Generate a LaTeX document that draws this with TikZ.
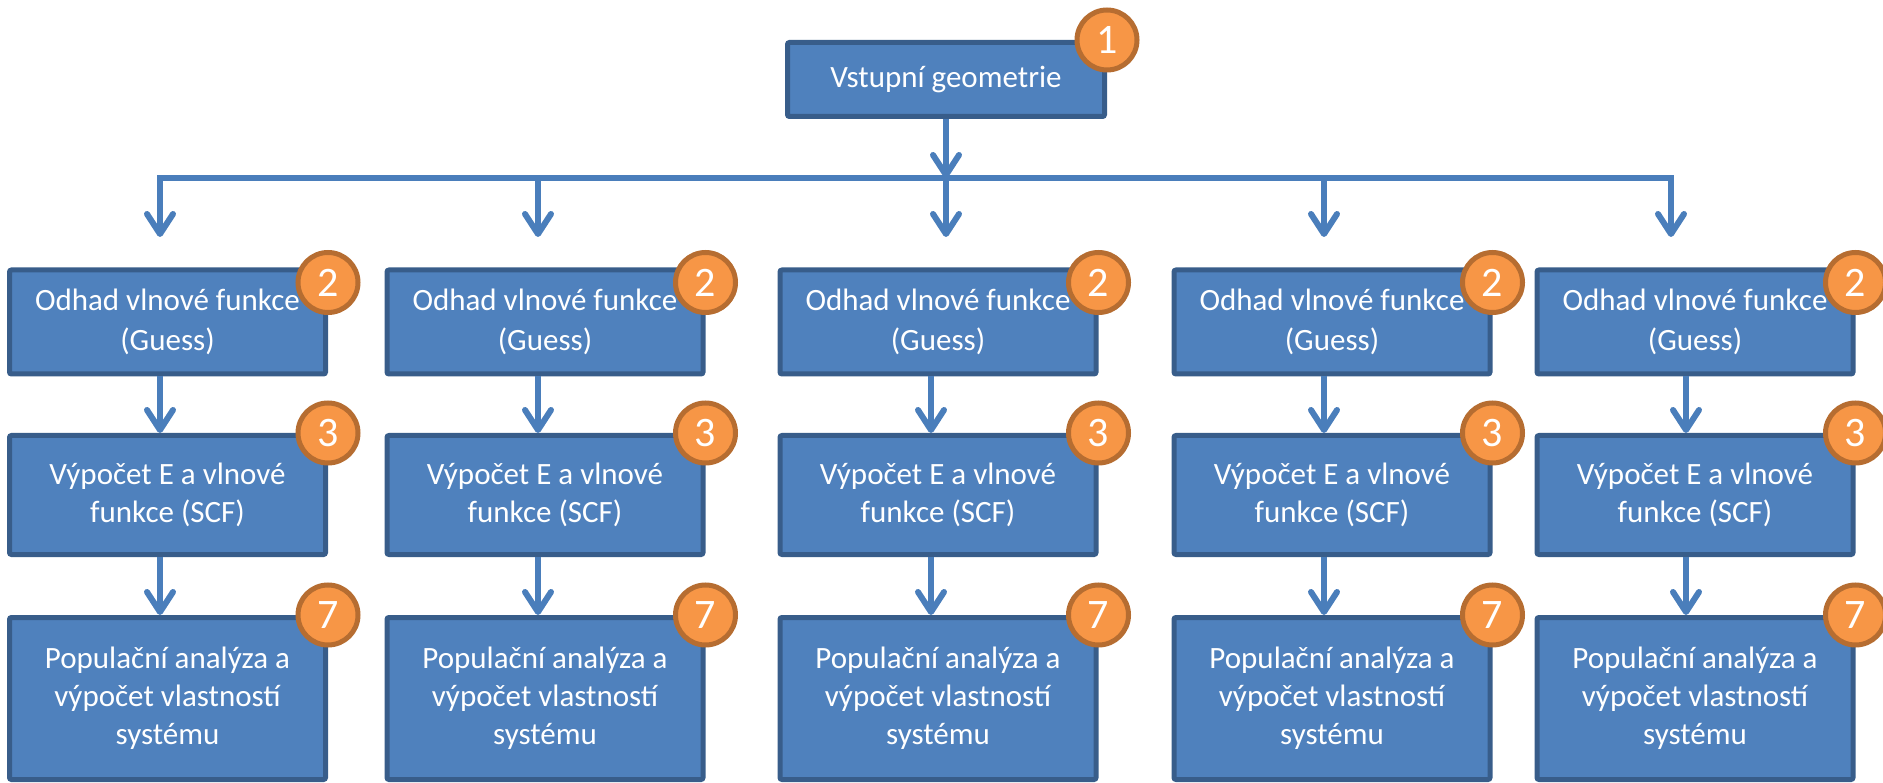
\documentclass[tikz,border=0pt]{standalone}
\usepackage{fontspec}
\setmainfont{Carlito}
\usetikzlibrary{arrows.meta}
\definecolor{boxfill}{HTML}{4F81BD}
\definecolor{boxline}{HTML}{385D8A}
\definecolor{conncol}{HTML}{4A7EBB}
\definecolor{badgefill}{HTML}{F79646}
\definecolor{badgeline}{HTML}{B66D31}
\begin{document}
\begin{tikzpicture}[x=1pt,y=-1pt,
  stepbox/.style={draw=boxline, fill=boxfill, line width=5pt, rounded corners=2pt,
    inner sep=0pt, minimum width=316pt, align=center, text=white,
    font=\fontsize{31}{38}\selectfont},
  badge/.style={circle, draw=badgeline, fill=badgefill, line width=5pt,
    minimum size=60pt, inner sep=0pt, text=white, font=\fontsize{42}{42}\selectfont},
  conn/.style={draw=conncol, line width=6pt},
  arr/.style={conn, -{Straight Barb[length=20pt, width=26pt, round]}},
]
\useasboundingbox (0,0) rectangle (1883,783);

\node[stepbox, minimum width=317pt, minimum height=74pt] (top) at (946,79.5) {Vstupní geometrie};
\node[badge] (b0) at (top.north east) {1};

\coordinate (h1) at (160,178);
\coordinate (h5) at (1671,178);
\draw[conn, line cap=rect] (h1) -- (h5);

\foreach \cx/\dx/\ix/\i in {167.5/160/160/1, 545/538/538/2, 938/946/931/3, 1332/1324/1324/4, 1695/1671/1686/5} {
  \node[stepbox, minimum height=104pt, font=\fontsize{31}{40}\selectfont] (r1c\i) at (\cx,322) {Odhad vlnové funkce\\(Guess)};
  \node[stepbox, minimum height=119pt] (r2c\i) at (\cx,495) {Výpočet E a vlnové\\funkce (SCF)};
  \node[stepbox, minimum height=162pt] (r3c\i) at (\cx,698.5) {Populační analýza a\\výpočet vlastností\\systému};
  \node[badge, yshift=-15pt] (ba\i) at (r1c\i.north east) {2};
  \node[badge] (bb\i) at (r2c\i.north east) {3};
  \node[badge] (bc\i) at (r3c\i.north east) {7};
  \coordinate (h\i) at (\dx,178);
  \coordinate (t\i) at (\dx,237);
  \coordinate (ix\i) at (\ix,0);
  \draw[arr] (h\i) -- (t\i);
  \draw[arr] (r1c\i.south -| ix\i) -- (r2c\i.north -| ix\i);
  \draw[arr] (r2c\i.south -| ix\i) -- (r3c\i.north -| ix\i);
}
\draw[arr] (top.south) -- (h3);
\end{tikzpicture}
\end{document}
